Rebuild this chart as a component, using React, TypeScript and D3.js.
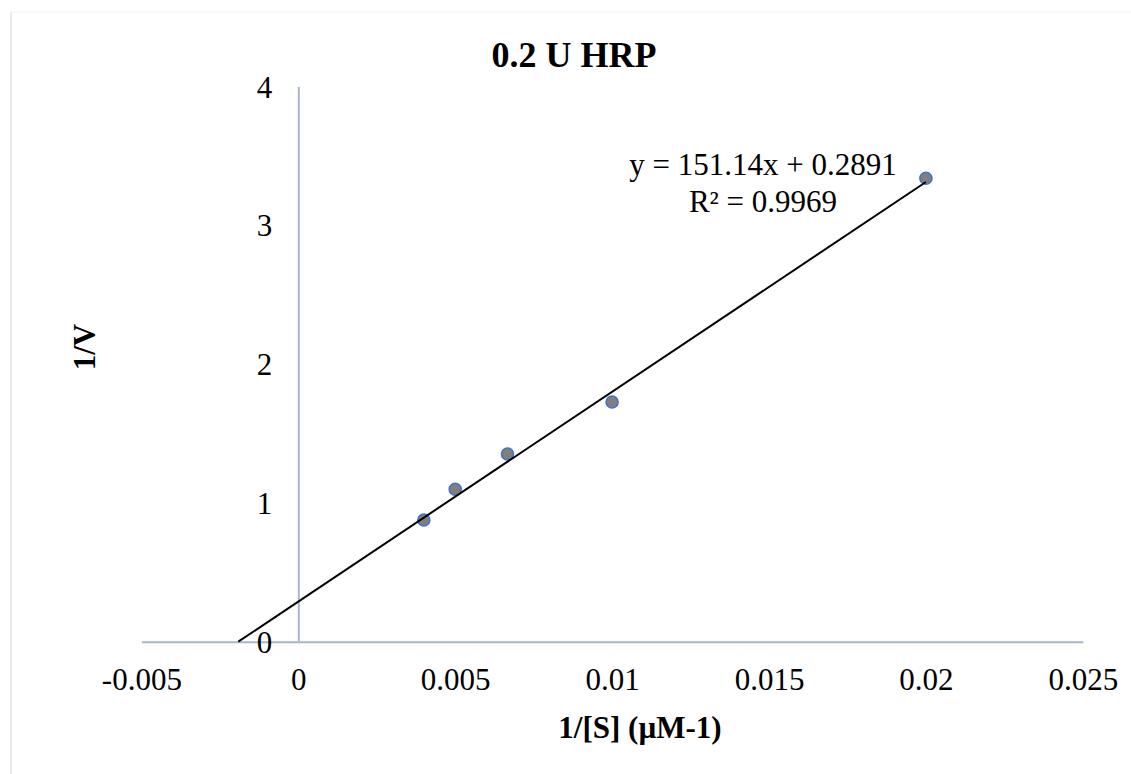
import React, { useRef, useEffect } from 'react';
import * as d3 from 'd3';

// 1/[S] values and their 1/V
const invS = [0.004, 0.005, 0.0066667, 0.01, 0.02];
const invV = [0.877, 1.098, 1.352, 1.727, 3.339];
const xTicks = [-0.005, 0, 0.005, 0.01, 0.015, 0.02, 0.025];
const yTicks = [0, 1, 2, 3, 4];
const slope = 151.14;
const intercept = 0.2891;
const eqLabel = 'y = 151.14x + 0.2891';
const r2Label = 'R² = 0.9969';

const W = 1131;
const H = 774;
const FONT = '"Liberation Serif", "Times New Roman", serif';
const axisColor = '#a9b5cd';

const App = () => {
  const ref = useRef<SVGSVGElement>(null);

  useEffect(() => {
    const svg = d3.select(ref.current);
    svg.selectAll('*').remove();

    const x = d3.scaleLinear().domain([-0.005, 0.025]).range([141.4, 1082.8]);
    const y = d3.scaleLinear().domain([0, 4]).range([641.7, 86.5]);

    // chart border (left / top edge visible)
    svg.append('line')
      .attr('x1', 11).attr('x2', 11).attr('y1', 12).attr('y2', H)
      .attr('stroke', '#dfe3ea').attr('stroke-width', 1.5);
    svg.append('line')
      .attr('x1', 11).attr('x2', W).attr('y1', 12).attr('y2', 12)
      .attr('stroke', '#f2f2f2').attr('stroke-width', 1);

    // x axis at y = 0
    const xAxis = d3.axisBottom(x)
      .tickValues(xTicks)
      .tickSizeInner(0)
      .tickSizeOuter(0)
      .tickFormat(d => String(d));
    const gx = svg.append('g')
      .attr('transform', `translate(0,${y(0)})`)
      .call(xAxis);
    gx.select('.domain').attr('stroke', axisColor).attr('stroke-width', 2);
    gx.selectAll('.tick line').remove();
    gx.selectAll('.tick text')
      .attr('y', 48).attr('dy', null)
      .attr('font-family', FONT).attr('font-size', 31).attr('fill', '#000');

    // y axis at x = 0
    const yAxis = d3.axisLeft(y)
      .tickValues(yTicks)
      .tickSizeInner(0)
      .tickSizeOuter(0)
      .tickPadding(26)
      .tickFormat(d => String(d));
    const gy = svg.append('g')
      .attr('transform', `translate(${x(0)},0)`)
      .call(yAxis);
    gy.select('.domain').attr('stroke', axisColor).attr('stroke-width', 2);
    gy.selectAll('.tick line').remove();
    gy.selectAll('.tick text')
      .attr('dy', '0.34em')
      .attr('font-family', FONT).attr('font-size', 31).attr('fill', '#000');

    // markers
    svg.append('g')
      .selectAll('circle')
      .data(invS.map((v, i) => [v, invV[i]]))
      .enter()
      .append('circle')
      .attr('cx', d => x(d[0]))
      .attr('cy', d => y(d[1]))
      .attr('r', 6)
      .attr('fill', '#7f7f7f')
      .attr('stroke', '#4472c4')
      .attr('stroke-width', 1.6);

    // linear trendline, forecast back to the x intercept
    const x0 = -intercept / slope;
    const x1 = d3.max(invS) as number;
    const line = d3.line<number>().x(d => x(d)).y(d => y(slope * d + intercept));
    svg.append('path')
      .attr('d', line([x0, x1]))
      .attr('stroke', '#000').attr('stroke-width', 2).attr('fill', 'none');

    // equation label
    const eq = svg.append('g')
      .attr('font-family', FONT).attr('font-size', 31).attr('text-anchor', 'middle');
    eq.append('text').attr('x', 763).attr('y', 175).text(eqLabel);
    eq.append('text').attr('x', 763).attr('y', 212).text(r2Label);

    // title
    svg.append('text')
      .attr('x', 574).attr('y', 67)
      .attr('text-anchor', 'middle')
      .attr('font-family', FONT).attr('font-size', 36).attr('font-weight', 'bold')
      .text('0.2 U HRP');

    // axis titles
    svg.append('text')
      .attr('x', 640).attr('y', 738)
      .attr('text-anchor', 'middle')
      .attr('font-family', FONT).attr('font-size', 31).attr('font-weight', 'bold')
      .text('1/[S] (µM-1)');
    svg.append('text')
      .attr('transform', 'translate(95,347) rotate(-90)')
      .attr('text-anchor', 'middle')
      .attr('font-family', FONT).attr('font-size', 31).attr('font-weight', 'bold')
      .text('1/V');
  }, []);

  return (
    <svg
      ref={ref}
      width={W}
      height={H}
      style={{ position: 'absolute', left: 0, top: 0, background: '#fff' }}
    />
  );
};

export default App;
